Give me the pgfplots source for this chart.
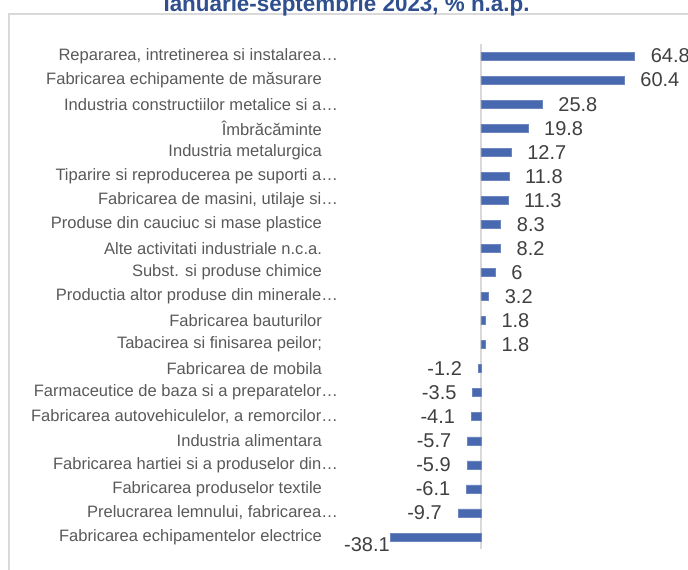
\documentclass[border=0pt]{standalone}
\usepackage{pgfplots}
\pgfplotsset{compat=1.18}
\usepackage{fontspec}
\setmainfont{Liberation Sans}
\definecolor{barblue}{RGB}{72,104,176}
\definecolor{lbl}{RGB}{89,89,89}
\definecolor{val}{RGB}{64,64,64}
\definecolor{ttl}{RGB}{47,79,143}
\definecolor{frm}{RGB}{217,217,217}
\newcommand\pad{\kern12pt}
\begin{document}
\begin{tikzpicture}
\draw[frm, line width=1.5pt] (6.75pt,-10.7pt) rectangle (540pt,-450pt);
\node[anchor=base, inner sep=0pt, font=\bfseries\fontsize{16.8}{18}\selectfont, text=ttl] at (259.9pt,-8.5pt) {Ianuarie-septembrie 2023, \% n.a.p.};
\begin{axis}[
  at={(289.65pt,-411.75pt)}, anchor=south west,
  scale only axis, width=195.5pt, height=378.75pt,
  xmin=-40, xmax=70, ymin=-0.5, ymax=20.5, y dir=reverse,
  xbar, bar width=6pt, bar shift=0pt,
  axis line style={draw=none},
  xtick=\empty, ytick={0,...,20},
  major tick length=0pt,
  extra x ticks={0}, extra x tick labels={},
  extra x tick style={grid=major, major grid style={frm, line width=1.5pt}},
  yticklabels={
    {Repararea, intretinerea si instalarea…},
    {Fabricarea echipamente de măsurare\pad},
    {Industria constructiilor metalice si a…},
    {Îmbrăcăminte\pad},
    {Industria metalurgica\pad},
    {Tiparire si reproducerea pe suporti a…},
    {Fabricarea de masini, utilaje si…},
    {Produse din cauciuc si mase plastice\pad},
    {Alte activitati industriale n.c.a.\pad},
    {Subst. si produse chimice\pad},
    {Productia altor produse din minerale…},
    {Fabricarea bauturilor\pad},
    {Tabacirea si finisarea peilor;\pad},
    {Fabricarea de mobila\pad},
    {Farmaceutice de baza si a preparatelor…},
    {Fabricarea autovehiculelor, a remorcilor…},
    {Industria alimentara\pad},
    {Fabricarea hartiei si a produselor din…},
    {Fabricarea produselor textile\pad},
    {Prelucrarea lemnului, fabricarea…},
    {Fabricarea echipamentelor electrice\pad}},
  yticklabel style={anchor=east, inner sep=0pt, xshift=-36pt, font=\fontsize{12.4}{14}\selectfont, text=lbl},
  /pgf/number format/assume math mode=true,
  nodes near coords,
  nodes near coords style={font=\fontsize{15}{17}\selectfont, text=val, inner xsep=12pt, inner ysep=0pt},
]
\addplot[fill=barblue, draw=barblue!80!white] coordinates {
(64.8,0) (60.4,1) (25.8,2) (19.8,3) (12.7,4) (11.8,5) (11.3,6) (8.3,7) (8.2,8) (6,9)
(3.2,10) (1.8,11) (1.8,12) (-1.2,13) (-3.5,14) (-4.1,15) (-5.7,16) (-5.9,17) (-6.1,18) (-9.7,19)
};
\addplot[fill=barblue, draw=barblue!80!white,
  every node near coord/.append style={anchor=east, inner xsep=0.5pt, yshift=-6pt}] coordinates {
(-38.1,20)
};
\end{axis}
\pgfresetboundingbox
\path[use as bounding box] (0pt,0pt) rectangle (516pt,-427.5pt);
\end{tikzpicture}
\end{document}
